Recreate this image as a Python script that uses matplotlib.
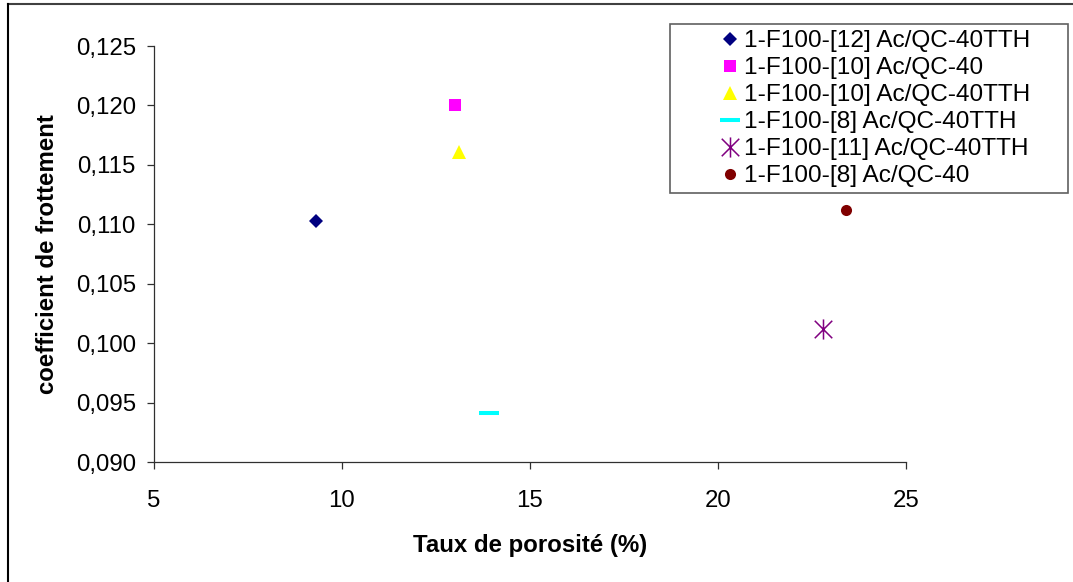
import matplotlib
matplotlib.use("Agg")
import matplotlib.pyplot as plt
from matplotlib.lines import Line2D
from matplotlib.patches import Rectangle
from matplotlib.path import Path
from matplotlib.ticker import FuncFormatter, MultipleLocator

plt.rcParams['font.family'] = ['Liberation Sans', 'DejaVu Sans']

# Porosity (%) and friction coefficient per sample
labels = [
    "1-F100-[12] Ac/QC-40TTH",
    "1-F100-[10] Ac/QC-40",
    "1-F100-[10] Ac/QC-40TTH",
    "1-F100-[8] Ac/QC-40TTH",
    "1-F100-[11] Ac/QC-40TTH",
    "1-F100-[8] Ac/QC-40",
]
porosity = [9.3, 13.0, 13.1, 13.9, 22.8, 23.4]
friction = [0.1103, 0.1200, 0.1161, 0.0941, 0.1012, 0.1112]

x_ticks = [5, 10, 15, 20, 25]
y_min, y_max, y_step = 0.090, 0.125, 0.005

# six-armed asterisk: X plus vertical bar
asterisk = Path(
    [(-1, -1), (1, 1), (-1, 1), (1, -1), (0, -1.15), (0, 1.15)],
    [Path.MOVETO, Path.LINETO, Path.MOVETO, Path.LINETO, Path.MOVETO, Path.LINETO],
)

styles = [
    dict(marker='D', color='#000080', ms=7, mew=0),
    dict(marker='s', color='#FF00FF', ms=8, mew=0),
    dict(marker='^', color='#FFFF00', ms=9.5, mew=0),
    dict(marker='_', color='#00FFFF', ms=14.5, mew=2.9),
    dict(marker=asterisk, color='#800080', ms=14.5, mew=1.1),
    dict(marker='o', color='#800000', ms=8, mew=0),
]

W, H = 1073, 582
fig = plt.figure(figsize=(W / 100, H / 100), dpi=100)
ax = fig.add_axes([154 / W, 1 - 462 / H, (906 - 154) / W, (462 - 46) / H])

handles = []
for xv, yv, lab, st in zip(porosity, friction, labels, styles):
    h, = ax.plot([xv], [yv], linestyle='none', marker=st['marker'],
                 color=st['color'], markersize=st['ms'],
                 markeredgewidth=st['mew'], label=lab, clip_on=False)
    handles.append(h)

ax.set_xlim(x_ticks[0], x_ticks[-1])
ax.set_ylim(y_min, y_max)
ax.set_xticks(x_ticks)
ax.yaxis.set_major_locator(MultipleLocator(y_step))
ax.yaxis.set_major_formatter(FuncFormatter(lambda v, p: f"{v:.3f}".replace('.', ',')))

for s in ('top', 'right'):
    ax.spines[s].set_visible(False)
for s in ('left', 'bottom'):
    ax.spines[s].set_color('#303030')
    ax.spines[s].set_linewidth(0.9)

ax.tick_params(axis='both', direction='out', length=5, width=0.9,
               color='#303030', labelsize=17.3)
ax.tick_params(axis='y', pad=8)
ax.tick_params(axis='x', pad=15)

ax.set_xlabel("Taux de porosité (%)", fontsize=17.3, fontweight='bold', labelpad=16)
ax.set_ylabel("coefficient de frottement", fontsize=17.3, fontweight='bold', labelpad=12)

# legend frame
fig.patches.append(Rectangle((670 / W, 1 - 193 / H), 398 / W, 169 / H,
                             transform=fig.transFigure, fill=False,
                             edgecolor='#606060', linewidth=1.2))
fig.legend(handles=handles, loc='upper left',
           bbox_to_anchor=(718 / W, 1 - 30 / H), bbox_transform=fig.transFigure,
           frameon=False, fontsize=17.6, handlelength=1.0, handletextpad=0.05,
           labelspacing=0.2, borderpad=0, borderaxespad=0)

# outer border of the chart area
fig.add_artist(Line2D([7.5 / W, 1.0], [1 - 3.5 / H, 1 - 3.5 / H],
                      transform=fig.transFigure, color='#404040', linewidth=1.5))
fig.add_artist(Line2D([7.5 / W, 7.5 / W], [0.0, 1 - 3.5 / H],
                      transform=fig.transFigure, color='black', linewidth=1.5))

fig.savefig("out.png", dpi=100)
